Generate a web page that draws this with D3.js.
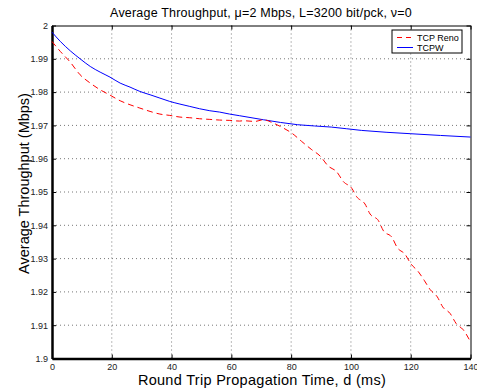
<!DOCTYPE html>
<html>
<head>
<meta charset="utf-8">
<script src="https://d3js.org/d3.v7.min.js"></script>
<style>
  body { margin: 0; background: #fff; }
  text { font-family: "Liberation Sans", Arial, sans-serif; }
</style>
</head>
<body>
<div id="chart"></div>
<script>
// data: d (ms) and throughput (Mbps)
var renoD = [0, 2.8, 6.1, 9.4, 12.8, 16.1, 19.4, 22.8, 26.1, 29.4, 32.8, 36.1, 39.4, 42.8, 46.1, 49.4, 52.8, 56.1, 59.5, 62.8, 64, 67.9, 70.7, 74, 77.4, 80.2, 83.5, 86.9, 89.7, 92.4, 95.2, 97.5, 100.3, 101.9, 104.7, 106.4, 109.2, 110.9, 113.7, 115.5, 118.1, 120, 122.6, 124.5, 126.5, 128.9, 130.7, 133.2, 135.2, 137.6, 140];
var renoT = [1.9952, 1.9922, 1.989, 1.9852, 1.9827, 1.9807, 1.9791, 1.9774, 1.9762, 1.9752, 1.9742, 1.9734, 1.973, 1.9725, 1.9723, 1.972, 1.9718, 1.9716, 1.9715, 1.9713, 1.9714, 1.9712, 1.9717, 1.9707, 1.9692, 1.9677, 1.9652, 1.9627, 1.9608, 1.9578, 1.9561, 1.9531, 1.9511, 1.9486, 1.9464, 1.9434, 1.9414, 1.9383, 1.9364, 1.9333, 1.9313, 1.9285, 1.926, 1.9235, 1.9207, 1.9185, 1.9155, 1.9135, 1.9105, 1.9086, 1.905];
var tcpwD = [0, 2.8, 6.1, 9.4, 12.8, 16.1, 19.4, 22.8, 26.1, 29.4, 32.8, 36.1, 39.4, 42.8, 46.1, 49.4, 52.8, 56.1, 59.4, 62.8, 70.7, 82.2, 93.4, 103.5, 120, 140];
var tcpwT = [1.998, 1.9952, 1.9924, 1.99, 1.9877, 1.986, 1.9845, 1.9827, 1.9815, 1.9802, 1.9792, 1.9782, 1.9772, 1.9764, 1.9757, 1.975, 1.9744, 1.974, 1.9734, 1.9729, 1.9717, 1.9702, 1.9695, 1.9685, 1.9675, 1.9665];
var xTicks = [0, 20, 40, 60, 80, 100, 120, 140];
var yTicks = [1.9, 1.91, 1.92, 1.93, 1.94, 1.95, 1.96, 1.97, 1.98, 1.99, 2];
var seriesNames = ["TCP Reno", "TCPW"];

var W = 477, H = 391;
var margin = { top: 25.5, right: 6.5, bottom: 32.5, left: 52 };
var width = W - margin.left - margin.right;
var height = H - margin.top - margin.bottom;

var svg = d3.select("#chart").append("svg")
    .attr("width", W).attr("height", H);
var g = svg.append("g")
    .attr("transform", "translate(" + margin.left + "," + margin.top + ")");

var x = d3.scaleLinear().domain([0, 140]).range([0, width]);
var y = d3.scaleLinear().domain([1.9, 2]).range([height, 0]);

// dotted grid
g.append("g").selectAll("line").data(xTicks.slice(1, -1)).join("line")
    .attr("x1", d => x(d)).attr("x2", d => x(d))
    .attr("y1", 0).attr("y2", height)
    .style("stroke", "#777").style("stroke-width", 1).style("stroke-dasharray", "1,3");
g.append("g").selectAll("line").data(yTicks.slice(1, -1)).join("line")
    .attr("x1", 0).attr("x2", width)
    .attr("y1", d => y(d)).attr("y2", d => y(d))
    .style("stroke", "#777").style("stroke-width", 1).style("stroke-dasharray", "1,3");

// axes (ticks inward, matlab style)
var fmt = d => String(+d.toFixed(2));
var xAxis = g.append("g").attr("transform", "translate(0," + height + ")")
    .call(d3.axisBottom(x).tickValues(xTicks).tickFormat(fmt).tickSizeInner(-4).tickSizeOuter(0).tickPadding(5));
var yAxis = g.append("g")
    .call(d3.axisLeft(y).tickValues(yTicks).tickFormat(fmt).tickSizeInner(-4).tickSizeOuter(0).tickPadding(4));
g.append("g").attr("transform", "translate(" + width + ",0)")
    .call(d3.axisRight(y).tickValues(yTicks).tickFormat("").tickSizeInner(-4).tickSizeOuter(0));
g.append("g")
    .call(d3.axisTop(x).tickValues(xTicks).tickFormat("").tickSizeInner(-4).tickSizeOuter(0));
g.selectAll(".domain").style("stroke", "#000");
g.selectAll(".tick line").style("stroke", "#000");
g.selectAll(".tick text").style("font-size", "9px").style("font-family", "Liberation Sans, Arial, sans-serif").attr("fill", "#222");
xAxis.select(".domain").style("stroke-width", 2.5);
yAxis.select(".domain").style("stroke-width", 2.5);

// lines
var renoData = renoD.map((d, i) => ({ d: d, t: renoT[i] }));
var tcpwData = tcpwD.map((d, i) => ({ d: d, t: tcpwT[i] }));
var line = d3.line().x(p => x(p.d)).y(p => y(p.t)).curve(d3.curveMonotoneX);

g.append("path").datum(tcpwData)
    .attr("d", line).attr("fill", "none")
    .style("stroke", "#0000ff").style("stroke-width", 1);
g.append("path").datum(renoData)
    .attr("d", line).attr("fill", "none")
    .style("stroke", "#ff0000").style("stroke-width", 1).style("stroke-dasharray", "6,4");

// title and labels
svg.append("text").attr("x", 261).attr("y", 16.5).attr("text-anchor", "middle")
    .style("font-size", "12.5px").style("letter-spacing", "0.2px")
    .text("Average Throughput, \u03bc=2 Mbps, L=3200 bit/pck, \u03bd=0");
svg.append("text").attr("x", 262).attr("y", 385).attr("text-anchor", "middle")
    .style("font-size", "14.5px").style("letter-spacing", "0.3px")
    .text("Round Trip Propagation Time, d (ms)");
svg.append("text").attr("transform", "translate(28.5,183.5) rotate(-90)")
    .attr("text-anchor", "middle").style("font-size", "14.5px")
    .text("Average Throughput (Mbps)");

// handmade legend
var lg = svg.append("g").attr("transform", "translate(392,30)");
lg.append("rect").attr("width", 70).attr("height", 23)
    .attr("fill", "#fff").style("stroke", "#000").style("stroke-width", 1);
var legColors = ["#ff0000", "#0000ff"];
seriesNames.forEach(function(name, i) {
  var ly = 7.5 + i * 10;
  lg.append("line").attr("x1", 5).attr("x2", 21).attr("y1", ly).attr("y2", ly)
      .style("stroke", legColors[i]).style("stroke-width", 1)
      .style("stroke-dasharray", i == 0 ? "5,4" : null);
  lg.append("text").attr("x", 25).attr("y", ly).attr("dy", "0.35em")
      .style("font-size", "9px").text(name);
});
</script>
</body>
</html>
